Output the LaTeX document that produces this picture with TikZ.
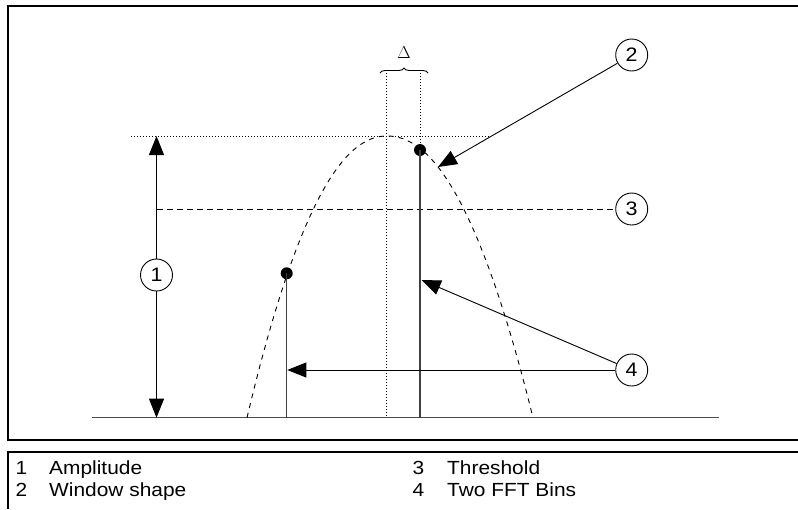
\documentclass[tikz,border=0pt]{standalone}
\usepackage{fontspec}
\setmainfont{Liberation Sans}[FakeStretch=1.1]
\usetikzlibrary{arrows.meta,decorations.pathreplacing}
\begin{document}
\begin{tikzpicture}[x=1pt,y=-1pt,
  num/.style={draw,circle,line width=0.9pt,minimum size=32pt,inner sep=0pt,font=\fontsize{19.5}{19.5}\selectfont},
  conn/.style={line width=0.9pt,-{Triangle[length=19pt,width=15pt]}},
  frame/.style={line width=2pt},
  axisline/.style={line width=1.3pt,draw=black!70},
  binline/.style={line width=1.2pt,draw=black!75},
  dotline/.style={line width=0.9pt,dash pattern=on 1pt off 2pt},
  dashline/.style={line width=0.9pt,dash pattern=on 6pt off 4pt},
  curveline/.style={line width=0.9pt,dash pattern=on 5pt off 5pt},
  bindot/.style={circle,fill=black,minimum size=12pt,inner sep=0pt},
  legtext/.style={anchor=base west,inner sep=0pt,font=\fontsize{19}{22}\selectfont}]
\useasboundingbox (0,0) rectangle (798,509);
% frames
\draw[frame] (798,6) -- (7.5,6) -- (7.5,440) -- (798,440);
\draw[frame] (798,451.7) -- (7.5,451.7) -- (7.5,509);
% baseline
\coordinate (bl) at (92,417.7);
\coordinate (br) at (719,417.7);
\draw[axisline] (bl) -- (br);
% peak dotted line
\coordinate (pl) at (131,136);
\coordinate (pr) at (490,136);
\draw[dotline] (pl) -- (pr);
% delta dotted verticals
\coordinate (v1t) at (386,73);
\coordinate (v2t) at (420,73);
\draw[dotline] (v1t) -- (v1t |- bl);
\draw[dotline] (v2t) -- (420,150);
% brace and delta
\coordinate (brl) at (380,73);
\coordinate (brr) at (428,73);
\draw[line width=0.9pt,decorate,decoration={brace,amplitude=5pt}] (brl) -- (brr);
\node[inner sep=0pt] (delta) at (404,53) {\fontsize{19}{19}\selectfont$\Delta$};
% window shape
\draw[curveline] plot[domain=-1:0,samples=60] ({387+140*\x},{136+281.7*pow(abs(\x),2.1)})
  -- plot[domain=0:1,samples=60] ({387+146*\x},{136+281.7*pow(abs(\x),2.1)});
% callouts
\node[num] (c1) at (156.5,275) {1};
\node[num] (c2) at (631.7,55) {2};
\node[num] (c3) at (631.7,209) {3};
\node[num] (c4) at (631.7,370) {4};
% threshold
\coordinate (th) at (157,209);
\draw[dashline] (th) -- (c3.west);
% bins
\node[bindot] (d1) at (286.7,273.3) {};
\node[bindot] (d2) at (420,150) {};
\draw[binline] (d1.center) -- (d1.center |- bl);
\draw[binline] (d2.center) -- (d2.center |- bl);
% amplitude arrows
\draw[conn] (c1) -- (156.5,136);
\draw[conn] (c1) -- (156.5,417.7);
% window shape arrow
\coordinate (w) at (438,167);
\draw[conn] (c2) -- (w);
% bin arrows
\coordinate (b2) at (421.7,280);
\coordinate (b1) at (287.3,370);
\draw[conn] (c4) -- (b2);
\draw[conn] (c4) -- (b1);
% legend
\node[legtext] (n1) at (15.5,474.3) {1};
\node[legtext] (t1) at (49,474.3) {Amplitude};
\node[legtext] (n2) at (15.5,496.5) {2};
\node[legtext] (t2) at (49,496.5) {Window shape};
\node[legtext] (n3) at (412.5,474.3) {3};
\node[legtext] (t3) at (447,474.3) {Threshold};
\node[legtext] (n4) at (412.5,496.5) {4};
\node[legtext] (t4) at (447,496.5) {Two FFT Bins};
\end{tikzpicture}
\end{document}
